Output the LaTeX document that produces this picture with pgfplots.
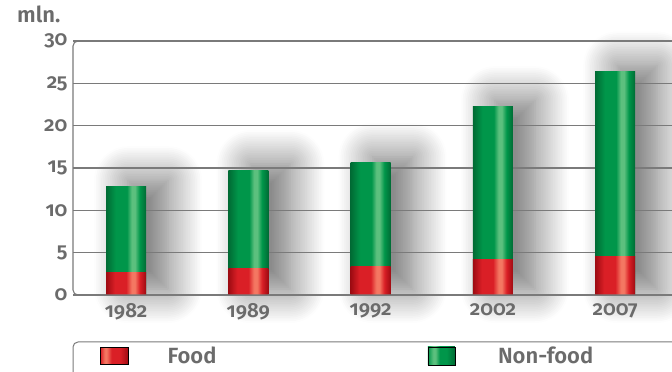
\documentclass[border=0pt]{standalone}
\usepackage{pgfplots}
\pgfplotsset{compat=1.18}
\usepackage{fontspec}
\setmainfont{Fira Sans}[BoldFont={Fira Sans SemiBold},Numbers=OldStyle]
\usetikzlibrary{shadows.blur}
\definecolor{txtgray}{HTML}{6B6B6B}
\definecolor{gridgray}{HTML}{7A7A7A}
\definecolor{redA}{HTML}{9E0B12}
\definecolor{redB}{HTML}{DA1F26}
\definecolor{redC}{HTML}{F47762}
\definecolor{greenA}{HTML}{006B34}
\definecolor{greenB}{HTML}{00964A}
\definecolor{greenC}{HTML}{5CC07E}
\pgfdeclarehorizontalshading{redcyl}{100bp}{color(0bp)=(redA); color(25bp)=(redA); color(36bp)=(redB); color(50bp)=(redB); color(57bp)=(redC); color(61bp)=(redC); color(67bp)=(redB); color(75bp)=(redA); color(100bp)=(redA)}
\pgfdeclarehorizontalshading{greencyl}{100bp}{color(0bp)=(greenA); color(25bp)=(greenA); color(37bp)=(greenB); color(51bp)=(greenB); color(57bp)=(greenC); color(61bp)=(greenC); color(67bp)=(greenB); color(75bp)=(greenA); color(100bp)=(greenA)}
\pgfdeclarehorizontalshading{redleg}{100bp}{color(0bp)=(redB); color(25bp)=(redB); color(33bp)=(redC); color(36bp)=(redC); color(45bp)=(redB); color(60bp)=(redB); color(75bp)=(redA); color(100bp)=(redA)}
\pgfdeclarehorizontalshading{greenleg}{100bp}{color(0bp)=(greenB); color(25bp)=(greenB); color(35bp)=(greenC); color(39bp)=(greenC); color(47bp)=(greenB); color(60bp)=(greenB); color(75bp)=(greenA); color(100bp)=(greenA)}
\pgfplotstableread{
x food nonfood total
0 2.70 10.15 12.85
1 3.15 11.60 14.75
2 3.35 12.25 15.60
3 4.25 18.05 22.30
4 4.60 21.80 26.40
}\datatable
\begin{document}
\begin{tikzpicture}[x=1pt,y=1pt]
\pgfplotsset{base/.style={scale only axis, width=607pt, height=254pt,
  at={(73pt,77pt)}, anchor=south west,
  xmin=-0.434, xmax=4.53, ymin=0, ymax=30}}
% shadows
\begin{axis}[base, hide axis, ybar, bar width=40pt, clip=false]
\addplot[draw=none, fill=none, blur shadow={shadow xshift=22pt, shadow yshift=6pt, shadow blur radius=34pt, shadow opacity=58, shadow blur steps=20}] table[x=x,y=total]{\datatable};
\end{axis}
% bars: total (non-food on top) drawn first, food drawn over its bottom part
\begin{axis}[base, ybar, bar width=40pt, bar shift=0pt,
  axis line style={draw=none}, major tick length=0pt,
  ymajorgrids, grid style={gridgray, line width=1.1pt},
  ytick={0,5,...,30}, xtick={0,1,2,3,4},
  xticklabels={1982,1989,1992,2002,2007},
  /pgf/number format/assume math mode=true,
  tick label style={font=\fontsize{20.5}{20.5}\selectfont\bfseries, text=txtgray},
  yticklabel style={xshift=-2pt},
  xticklabel style={yshift=-5pt},
  legend style={draw=none, fill=none, at={(rel axis cs:0.0445,-0.240)}, anchor=west,
    inner sep=0pt, nodes={inner sep=0pt}, column sep=0pt,
    font=\fontsize{22}{22}\selectfont\bfseries, text=txtgray},
  legend columns=2, legend cell align=left,
  clip=false]
\addlegendimage{legend image code/.code={\path[shading=redleg] (0pt,-8.5pt) rectangle (28pt,8.5pt); \path (67pt,0pt);}}
\addlegendentry{\makebox[260pt][l]{Food}}
\addlegendimage{legend image code/.code={\path[shading=greenleg] (0pt,-9pt) rectangle (27pt,9pt); \path (70pt,0pt);}}
\addlegendentry{Non-food}
% Non-food (full bar height = total)
\addplot[draw=none, shading=greencyl, forget plot] coordinates {(0,12.85)};
\addplot[draw=none, shading=greencyl, forget plot] coordinates {(1,14.75)};
\addplot[draw=none, shading=greencyl, forget plot] coordinates {(2,15.60)};
\addplot[draw=none, shading=greencyl, forget plot] coordinates {(3,22.30)};
\addplot[draw=none, shading=greencyl, forget plot] coordinates {(4,26.40)};
% Food
\addplot[draw=none, shading=redcyl, forget plot] coordinates {(0,2.70)};
\addplot[draw=none, shading=redcyl, forget plot] coordinates {(1,3.15)};
\addplot[draw=none, shading=redcyl, forget plot] coordinates {(2,3.35)};
\addplot[draw=none, shading=redcyl, forget plot] coordinates {(3,4.25)};
\addplot[draw=none, shading=redcyl, forget plot] coordinates {(4,4.60)};
\end{axis}
\draw[gridgray, line width=1.1pt, rounded corners=5pt] (700,331) -- (73,331) -- (73,77) -- (700,77);
\draw[gridgray, line width=1pt, rounded corners=5pt] (700,30) -- (73,30) -- (73,-20);
\node[anchor=base west, font=\fontsize{22}{22}\selectfont\bfseries, text=txtgray, inner sep=0pt] at (17,349) {mln.};
\pgfresetboundingbox
\useasboundingbox (0,0) rectangle (672,372);
\end{tikzpicture}
\end{document}
